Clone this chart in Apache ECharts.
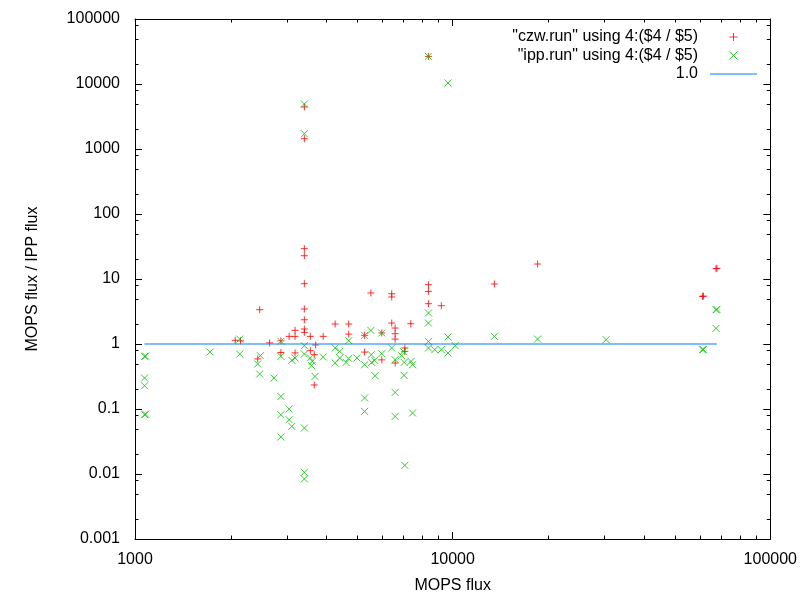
<!DOCTYPE html>
<html>
<head>
<meta charset="utf-8">
<script src="https://cdn.jsdelivr.net/npm/echarts@6/dist/echarts.min.js"></script>
<style>
  html, body { margin: 0; padding: 0; background: #fff; }
  #chart { width: 800px; height: 600px; }
</style>
</head>
<body>
<div id="chart"></div>
<script>
// czw.run : MOPS flux vs MOPS/IPP ratio
const czwFlux = [
  2068, 2149, 2469, 2434, 2653, 2879, 2879, 3413, 3413, 3413,
  3413, 3413, 3413, 3413, 3191, 3057, 3191, 3564, 3913, 4266,
  4708, 4708, 5529, 5282, 5282, 3191, 3705, 3667, 3564, 3667,
  3413, 3413, 6430, 6430, 8390, 8390, 8390, 9212, 6430, 7381,
  5983, 6591, 6591, 6591, 7070, 7070, 5983, 6591, 8390, 13530,
  18510, 61140, 67470, 61600, 67900
];
const czwRatio = [
  1.14, 1.12, 3.37, 0.59, 1.04, 1.12, 0.74, 29.3, 22.8, 8.47,
  3.46, 2.36, 1.70, 1.51, 1.62, 1.31, 1.31, 1.31, 1.31, 2.03,
  2.03, 1.42, 6.09, 1.36, 0.75, 0.73, 0.965, 0.685, 0.79, 0.234,
  4430, 1440, 5.94, 5.29, 8.17, 6.45, 4.17, 3.88, 2.10, 2.05,
  1.48, 1.76, 1.44, 1.19, 0.87, 0.77, 0.57, 0.51, 26580, 8.38,
  17.0, 5.40, 14.4, 5.45, 14.6
];

// ipp.run
const ippFlux = [
  1072, 1072, 1072, 1072, 1723, 2138, 2138, 2481, 2434, 2469,
  2738, 2879, 2879, 2879, 2879, 2879, 3057, 3057, 3117, 3413,
  3413, 3413, 3413, 3413, 3191, 3117, 3564, 3614, 3600, 3687,
  3913, 4266, 4413, 4413, 4266, 4708, 4708, 4998, 5282, 5529,
  5544, 5282, 5677, 5561, 4617, 5697, 5282, 5282, 5983, 8390,
  8390, 9667, 8390, 8390, 8785, 9212, 10188, 9667, 5983, 6430,
  6591, 6993, 6909, 7035, 7393, 7478, 7035, 6591, 6591, 7478,
  7070, 3413, 3413, 8390, 9667, 13530, 18510, 30420, 61140, 67470,
  67470, 1080, 1080, 61600, 67900
];
const ippRatio = [
  0.645, 0.30, 0.228, 0.0817, 0.753, 1.19, 0.70, 0.661, 0.492, 0.345,
  0.30, 1.10, 0.645, 0.156, 0.0817, 0.0371, 0.100, 0.0684, 0.054, 0.051,
  0.0106, 0.0084, 0.942, 0.702, 0.609, 0.56, 0.609, 0.54, 0.464, 0.317,
  0.631, 0.868, 0.769, 0.609, 0.51, 1.124, 0.60, 0.609, 1.356, 1.62,
  0.685, 0.48, 0.56, 0.521, 0.521, 0.325, 0.148, 0.0918, 1.476, 3.00,
  2.10, 1.28, 1.096, 0.868, 0.817, 0.817, 0.942, 0.727, 0.71, 0.868,
  0.574, 0.769, 0.661, 0.521, 0.54, 0.48, 0.329, 0.18, 0.0769, 0.0868,
  0.01356, 4925, 1719, 26580, 10360, 1.31, 1.19, 1.165, 0.817, 3.37,
  1.74, 0.65, 0.083, 0.82, 3.4
];

// constant function 1.0
const unitRatio = 1.0;

const xTickLabels = ['1000', '10000', '100000'];
const yTickLabels = ['0.001', '0.01', '0.1', '1', '10', '100', '1000', '10000', '100000'];
const xMinorMantissa = [2, 3, 4, 5, 6, 7, 8, 9];
const yMinorMantissa = [2, 5, 8];
const xDecades = [1000, 10000];
const yDecades = [0.001, 0.01, 0.1, 1, 10, 100, 1000, 10000];

const X_MIN = 1000, X_MAX = 100000, Y_MIN = 0.001, Y_MAX = 100000;
const FONT = 'Liberation Sans, Arial, sans-serif';

const zip = (a, b) => a.map((v, i) => [v, b[i]]);
const allFlux = czwFlux.concat(ippFlux);
const lineFrom = Math.min(...allFlux), lineTo = Math.max(...allFlux);

const xMinor = [];
xDecades.forEach(d => xMinorMantissa.forEach(m => xMinor.push([d * m, 1])));
const yMinor = [];
yDecades.forEach(d => yMinorMantissa.forEach(m => yMinor.push([2000, d * m])));

const chart = echarts.init(document.getElementById('chart'), null, { renderer: 'canvas' });

// 坐标轴公共部分
const axisCommon = {
  axisLine: { show: true, lineStyle: { color: '#000', width: 1 } },
  axisTick: { show: true, inside: true, length: 7, lineStyle: { color: '#000', width: 1 } },
  splitLine: { show: false },
  minorTick: { show: false },
  axisLabel: { color: '#000', fontFamily: FONT, fontSize: 16 }
};

const PLUS = 'path://M0,5L10,5M5,0L5,10';
const CROSS = 'path://M0,0L10,10M10,0L0,10';
const DASH = 'path://M0,0L47,0L47,1L0,1Z';

const NAME_CZW = '"czw.run" using 4:($4 / $5)';
const NAME_IPP = '"ipp.run" using 4:($4 / $5)';

const option = {
  animation: false,
  backgroundColor: '#fff',
  grid: { left: 135, right: 25, top: 19, bottom: 61, show: false },
  legend: {
    orient: 'vertical',
    align: 'right',
    right: 38,
    top: 23,
    itemWidth: 47,
    itemHeight: 8,
    itemGap: 0.5,
    selectedMode: false,
    itemStyle: { borderWidth: 1 },
    textStyle: { color: '#000', fontFamily: FONT, fontSize: 16, lineHeight: 18, padding: [0, 7, 0, 0] },
    data: [
      { name: NAME_CZW },
      { name: NAME_IPP },
      { name: '1.0', icon: DASH, itemStyle: { color: '#0080ff', borderWidth: 0 } }
    ]
  },
  xAxis: [
    Object.assign({}, axisCommon, {
      type: 'log', logBase: 10, min: X_MIN, max: X_MAX, splitNumber: 2,
      position: 'bottom',
      name: 'MOPS flux', nameLocation: 'middle', nameGap: 39,
      nameTextStyle: { color: '#000', fontFamily: FONT, fontSize: 16 },
      axisLabel: Object.assign({}, axisCommon.axisLabel, {
        margin: 13,
        showMinLabel: true, showMaxLabel: true,
        formatter: v => xTickLabels[Math.round(Math.log10(v)) - 3]
      })
    }),
    Object.assign({}, axisCommon, {
      type: 'log', logBase: 10, min: X_MIN, max: X_MAX, splitNumber: 2,
      position: 'top', axisLabel: { show: false }
    })
  ],
  yAxis: [
    Object.assign({}, axisCommon, {
      type: 'log', logBase: 10, min: Y_MIN, max: Y_MAX, splitNumber: 8,
      position: 'left',
      name: 'MOPS flux / IPP flux', nameLocation: 'middle', nameGap: 94,
      nameTextStyle: { color: '#000', fontFamily: FONT, fontSize: 16 },
      axisLabel: Object.assign({}, axisCommon.axisLabel, {
        margin: 15,
        showMinLabel: true, showMaxLabel: true,
        formatter: v => yTickLabels[Math.round(Math.log10(v)) + 3]
      })
    }),
    Object.assign({}, axisCommon, {
      type: 'log', logBase: 10, min: Y_MIN, max: Y_MAX, splitNumber: 8,
      position: 'right', axisLabel: { show: false }
    })
  ],
  series: [
    {
      name: NAME_CZW,
      type: 'scatter',
      data: zip(czwFlux, czwRatio),
      symbol: PLUS,
      symbolSize: 7,
      itemStyle: { color: 'transparent', borderColor: '#ff0000', borderWidth: 1 },
      emphasis: { disabled: true },
      silent: true,
      z: 3
    },
    {
      name: NAME_IPP,
      type: 'scatter',
      data: zip(ippFlux, ippRatio),
      symbol: CROSS,
      symbolSize: 7,
      itemStyle: { color: 'transparent', borderColor: '#00c000', borderWidth: 1 },
      emphasis: { disabled: true },
      silent: true,
      z: 4
    },
    {
      name: '1.0',
      type: 'line',
      data: [[lineFrom, unitRatio], [lineTo, unitRatio]],
      symbol: 'none',
      itemStyle: { color: '#0080ff' },
      lineStyle: { color: '#0080ff', width: 1.2 },
      emphasis: { disabled: true },
      silent: true,
      z: 5
    },
    // 次刻度（x 轴，上下两侧）
    {
      type: 'custom',
      data: xMinor,
      silent: true,
      z: 6,
      renderItem: (params, api) => {
        const v = api.value(0);
        const b = api.coord([v, Y_MIN]);
        const t = api.coord([v, Y_MAX]);
        const x = Math.round(b[0]) + 0.5;
        return {
          type: 'group',
          children: [
            { type: 'line', shape: { x1: x, y1: b[1], x2: x, y2: b[1] - 3.5 }, style: { stroke: '#000', lineWidth: 1 } },
            { type: 'line', shape: { x1: x, y1: t[1], x2: x, y2: t[1] + 3.5 }, style: { stroke: '#000', lineWidth: 1 } }
          ]
        };
      }
    },
    // 次刻度（y 轴，左右两侧）
    {
      type: 'custom',
      data: yMinor,
      silent: true,
      z: 6,
      renderItem: (params, api) => {
        const v = api.value(1);
        const l = api.coord([X_MIN, v]);
        const r = api.coord([X_MAX, v]);
        const y = Math.round(l[1]) + 0.5;
        return {
          type: 'group',
          children: [
            { type: 'line', shape: { x1: l[0], y1: y, x2: l[0] + 3.5, y2: y }, style: { stroke: '#000', lineWidth: 1 } },
            { type: 'line', shape: { x1: r[0], y1: y, x2: r[0] - 3.5, y2: y }, style: { stroke: '#000', lineWidth: 1 } }
          ]
        };
      }
    }
  ]
};

chart.setOption(option);
</script>
</body>
</html>
